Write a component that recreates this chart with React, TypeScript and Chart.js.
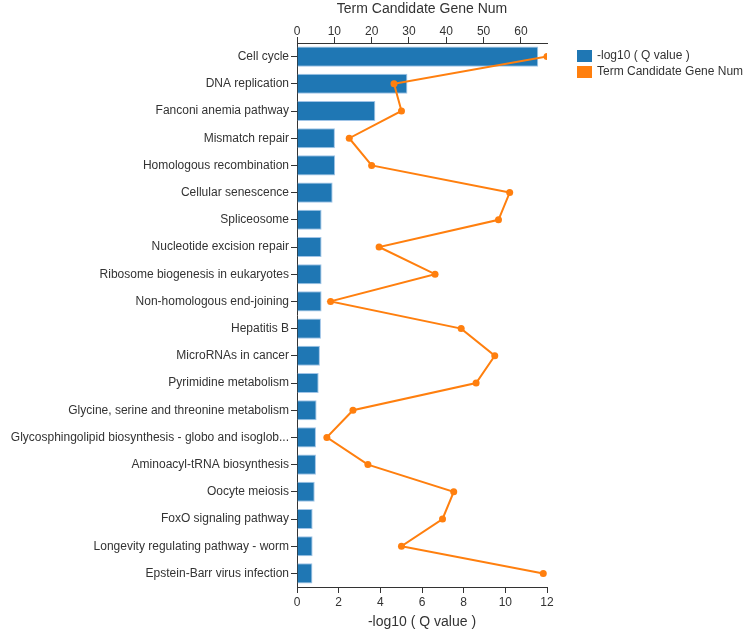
import React, { useEffect, useRef } from "react";
import { Chart, registerables } from "chart.js";

Chart.register(...registerables);

const categories: string[] = [
  "Cell cycle",
  "DNA replication",
  "Fanconi anemia pathway",
  "Mismatch repair",
  "Homologous recombination",
  "Cellular senescence",
  "Spliceosome",
  "Nucleotide excision repair",
  "Ribosome biogenesis in eukaryotes",
  "Non-homologous end-joining",
  "Hepatitis B",
  "MicroRNAs in cancer",
  "Pyrimidine metabolism",
  "Glycine, serine and threonine metabolism",
  "Glycosphingolipid biosynthesis - globo and isoglob...",
  "Aminoacyl-tRNA biosynthesis",
  "Oocyte meiosis",
  "FoxO signaling pathway",
  "Longevity regulating pathway - worm",
  "Epstein-Barr virus infection",
];

// -log10(Q value) per pathway
const qValues: number[] = [
  11.58, 5.3, 3.76, 1.82, 1.83, 1.71, 1.18, 1.18, 1.18, 1.18,
  1.15, 1.1, 1.04, 0.94, 0.91, 0.91, 0.85, 0.75, 0.75, 0.74,
];

// Number of candidate genes per pathway
const geneNums: number[] = [
  67, 26, 28, 14, 20, 57, 54, 22, 37, 9,
  44, 53, 48, 15, 8, 19, 42, 39, 28, 66,
];

const bottomTicks: number[] = [0, 2, 4, 6, 8, 10, 12];
const topTicks: number[] = [0, 10, 20, 30, 40, 50, 60];

const BLUE = "#1f77b4";
const ORANGE = "#ff7f0e";
const FONT = "'Liberation Sans', Arial, sans-serif";

const legendItems = [
  { label: "-log10 ( Q value )", color: BLUE },
  { label: "Term Candidate Gene Num", color: ORANGE },
];

const sideLegend = {
  id: "sideLegend",
  afterDraw(chart: any) {
    const ctx = chart.ctx;
    ctx.save();
    ctx.font = `12px ${FONT}`;
    ctx.textBaseline = "middle";
    ctx.textAlign = "left";
    legendItems.forEach((item, i) => {
      const y = 56 + i * 16;
      ctx.fillStyle = item.color;
      ctx.fillRect(577, y - 6, 15, 12);
      ctx.fillStyle = "#333";
      ctx.fillText(item.label, 597, y);
    });
    ctx.restore();
  },
};

export default function App() {
  const canvasRef = useRef<HTMLCanvasElement | null>(null);

  useEffect(() => {
    if (!canvasRef.current) return;
    const chart = new Chart(canvasRef.current, {
      type: "bar",
      data: {
        labels: categories,
        datasets: [
          {
            type: "line",
            label: "Term Candidate Gene Num",
            data: geneNums,
            xAxisID: "x2",
            yAxisID: "y",
            indexAxis: "y",
            borderColor: ORANGE,
            backgroundColor: ORANGE,
            borderWidth: 2,
            pointRadius: 3.5,
            pointBorderWidth: 0,
            tension: 0,
            order: 0,
          } as any,
          {
            type: "bar",
            label: "-log10 ( Q value )",
            data: qValues,
            xAxisID: "x",
            yAxisID: "y",
            backgroundColor: BLUE,
            borderColor: "rgba(150,190,228,0.9)",
            borderWidth: 1,
            categoryPercentage: 1,
            barPercentage: 0.74,
            order: 1,
          },
        ],
      },
      options: {
        indexAxis: "y",
        animation: false,
        responsive: false,
        maintainAspectRatio: false,
        layout: { padding: { left: 0, right: 203, top: 0, bottom: 0 } },
        plugins: {
          legend: { display: false },
          tooltip: { enabled: false },
        },
        scales: {
          y: {
            type: "category",
            position: "left",
            offset: true,
            grid: {
              display: true,
              drawOnChartArea: false,
              drawTicks: true,
              tickLength: 6,
              offset: false,
              color: "#333",
            },
            border: { display: true, color: "#333" },
            ticks: {
              color: "#333",
              font: { size: 12, family: FONT },
              padding: 2,
              autoSkip: false,
            },
            afterFit(scale: any) {
              scale.width = 297;
            },
          },
          x: {
            type: "linear",
            position: "bottom",
            min: 0,
            max: 12,
            afterBuildTicks(scale: any) {
              scale.ticks = bottomTicks.map((v) => ({ value: v }));
            },
            grid: {
              display: true,
              drawOnChartArea: false,
              drawTicks: true,
              tickLength: 6,
              color: "#333",
            },
            border: { display: true, color: "#333" },
            ticks: {
              color: "#333",
              font: { size: 12, family: FONT },
              padding: 2,
              maxRotation: 0,
            },
            title: {
              display: true,
              text: "-log10 ( Q value )",
              color: "#333",
              font: { size: 14, family: FONT },
              padding: { top: 6, bottom: 3 },
            },
            afterFit(scale: any) {
              scale.height = 47;
            },
          },
          x2: {
            type: "linear",
            position: "top",
            min: 0,
            max: 67,
            afterBuildTicks(scale: any) {
              scale.ticks = topTicks.map((v) => ({ value: v }));
            },
            grid: {
              display: true,
              drawOnChartArea: false,
              drawTicks: true,
              tickLength: 6,
              color: "#333",
            },
            border: { display: true, color: "#333" },
            ticks: {
              color: "#333",
              font: { size: 12, family: FONT },
              padding: -2,
              maxRotation: 0,
            },
            title: {
              display: true,
              text: "Term Candidate Gene Num",
              color: "#333",
              font: { size: 14, family: FONT },
              padding: { top: 1, bottom: 4 },
            },
            afterFit(scale: any) {
              scale.height = 43;
            },
          },
        },
      },
      plugins: [sideLegend],
    });
    return () => chart.destroy();
  }, []);

  return (
    <div style={{ position: "fixed", left: 0, top: 0, width: 750, height: 634, background: "#fff" }}>
      <canvas ref={canvasRef} width={750} height={634} style={{ display: "block" }} />
    </div>
  );
}
